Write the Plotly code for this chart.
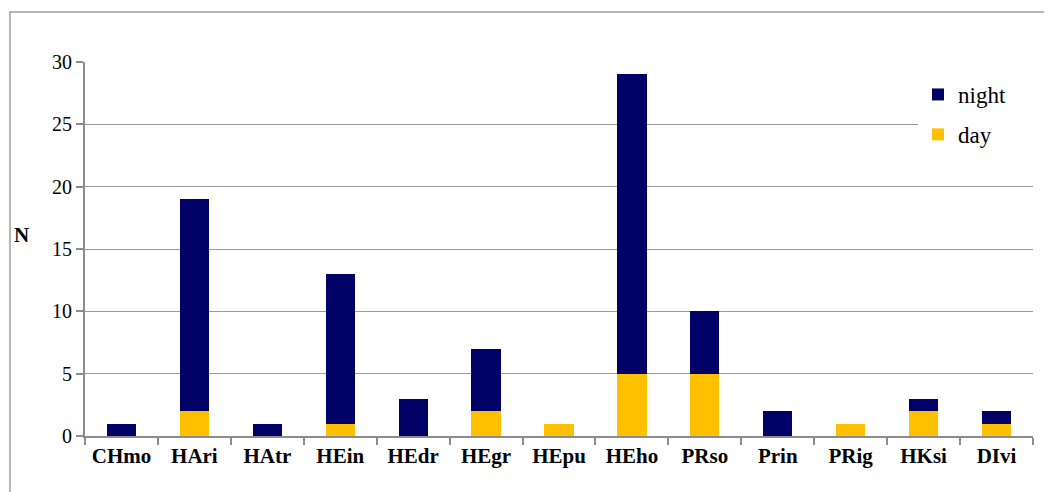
import plotly.graph_objects as go

categories = ["CHmo", "HAri", "HAtr", "HEin", "HEdr", "HEgr", "HEpu",
              "HEho", "PRso", "Prin", "PRig", "HKsi", "DIvi"]
day_values = [0, 2, 0, 1, 0, 2, 1, 5, 5, 0, 1, 2, 1]
night_values = [1, 17, 1, 12, 3, 5, 0, 24, 5, 2, 0, 1, 1]
y_ticks = [0, 5, 10, 15, 20, 25, 30]

FONT = "Liberation Serif"
OFF = 8  # page body margin
W, H = 1044, 484
L, T = 85 - OFF, 62 - OFF
pw, ph = 948, 374
R, B = W - L - pw, H - T - ph


def px_x(x):
    return (x - OFF - L) / pw


def px_y(y):
    return (T + ph - (y - OFF)) / ph


fig = go.Figure()
fig.add_trace(go.Bar(x=categories, y=day_values, name="day", legendgroup="day",
                     legendrank=2,
                     marker=dict(color="#FFC000", line=dict(width=0))))
fig.add_trace(go.Bar(x=categories, y=night_values, name="night", legendgroup="night",
                     legendrank=1,
                     marker=dict(color="#000066", line=dict(width=0))))

fig.add_shape(type="rect", xref="paper", yref="paper",
              x0=px_x(10), x1=px_x(1080),
              y0=px_y(540), y1=px_y(12),
              line=dict(color="#A0A0A0", width=1.5), fillcolor="rgba(0,0,0,0)",
              layer="below")

# legend box background extends to the plot's right edge
fig.add_shape(type="rect", xref="paper", yref="paper",
              x0=px_x(918), x1=1.0, y0=px_y(150), y1=px_y(80),
              line=dict(width=0), fillcolor="white", layer="above")

fig.add_annotation(text="<b>N</b>", xref="paper", yref="paper",
                   x=px_x(21), y=px_y(235), xanchor="center", yanchor="middle",
                   showarrow=False, font=dict(family=FONT, size=21, color="black"))

fig.update_layout(
    width=W, height=H,
    margin=dict(l=L, r=R, t=T, b=B),
    barmode="stack", bargap=0.6,
    plot_bgcolor="white", paper_bgcolor="white",
    font=dict(family=FONT, color="black"),
    showlegend=True,
    legend=dict(traceorder="grouped", x=px_x(918), y=px_y(73),
                xanchor="left", yanchor="top", bgcolor="white",
                font=dict(family=FONT, size=23, color="black"),
                itemwidth=30, tracegroupgap=7),
    xaxis=dict(showgrid=False, showline=True, linecolor="#8C8C8C", linewidth=2,
               ticks="outside", ticklen=7, tickcolor="#8C8C8C", tickwidth=1.5,
               tickson="boundaries",
               tickfont=dict(family=FONT, size=21, color="black", weight="bold")),
    yaxis=dict(range=[0, 30], tickvals=y_ticks, showgrid=True,
               gridcolor="#999999", gridwidth=1.2,
               showline=True, linecolor="#8C8C8C", linewidth=2,
               ticks="outside", ticklen=7, tickcolor="#8C8C8C", tickwidth=1.5,
               tickfont=dict(family=FONT, size=20, color="black"),
               zeroline=False),
)

fig.write_html("out.html")
